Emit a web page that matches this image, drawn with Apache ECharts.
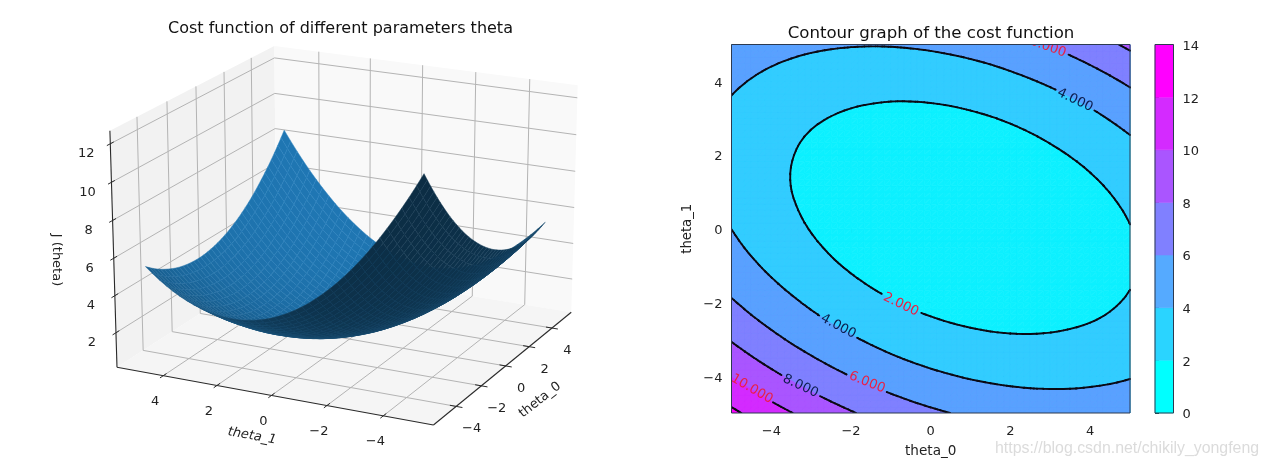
<!DOCTYPE html>
<html><head><meta charset="utf-8">
<style>html,body{margin:0;padding:0;background:#fff}#c{width:1267px;height:466px}</style>
<script src="https://cdn.jsdelivr.net/npm/echarts@6/dist/echarts.min.js"></script>
</head><body><div id="c"></div>
<script>
const FONT='"DejaVu Sans"';
const title3d='Cost function of different parameters theta';
const titleContour='Contour graph of the cost function';
const theta0Values=[-5,-4.5,-4,-3.5,-3,-2.5,-2,-1.5,-1,-0.5,0,0.5,1,1.5,2,2.5,3,3.5,4,4.5,5];
const theta1Values=[-5,-4.5,-4,-3.5,-3,-2.5,-2,-1.5,-1,-0.5,0,0.5,1,1.5,2,2.5,3,3.5,4,4.5,5];
// J(theta_0, theta_1), one row per theta_1 value, one column per theta_0 value
const costValues=[
[12.42,11.58,10.79,10.05,9.36,8.73,8.14,7.61,7.13,6.70,6.32,5.99,5.72,5.49,5.32,5.20,5.13,5.11,5.14,5.23,5.36],
[11.13,10.32,9.55,8.84,8.18,7.57,7.01,6.50,6.05,5.64,5.29,4.99,4.74,4.54,4.39,4.29,4.25,4.25,4.31,4.42,4.58],
[9.95,9.16,8.42,7.73,7.09,6.51,5.97,5.49,5.06,4.68,4.35,4.08,3.85,3.68,3.55,3.48,3.46,3.49,3.58,3.71,3.90],
[8.86,8.09,7.38,6.72,6.11,5.55,5.04,4.58,4.17,3.82,3.52,3.27,3.06,2.92,2.82,2.77,2.78,2.83,2.94,3.10,3.31],
[7.87,7.13,6.44,5.80,5.22,4.68,4.20,3.77,3.39,3.06,2.78,2.55,2.38,2.25,2.18,2.16,2.19,2.27,2.40,2.59,2.82],
[6.98,6.26,5.60,4.99,4.42,3.91,3.46,3.05,2.69,2.39,2.14,1.94,1.79,1.69,1.64,1.64,1.70,1.81,1.96,2.17,2.43],
[6.18,5.49,4.85,4.27,3.73,3.25,2.81,2.43,2.10,1.82,1.59,1.42,1.29,1.22,1.20,1.23,1.31,1.44,1.62,1.86,2.14],
[5.49,4.82,4.21,3.65,3.14,2.68,2.27,1.91,1.61,1.35,1.15,1.00,0.90,0.85,0.85,0.91,1.01,1.17,1.38,1.64,1.95],
[4.89,4.25,3.66,3.12,2.64,2.20,1.82,1.49,1.21,0.98,0.80,0.68,0.60,0.58,0.61,0.69,0.82,1.00,1.23,1.52,1.85],
[4.39,3.77,3.21,2.70,2.24,1.83,1.47,1.17,0.91,0.71,0.56,0.46,0.41,0.41,0.46,0.57,0.72,0.93,1.19,1.50,1.86],
[3.99,3.40,2.86,2.37,1.94,1.55,1.22,0.94,0.71,0.53,0.41,0.33,0.31,0.33,0.41,0.54,0.72,0.95,1.24,1.57,1.96],
[3.68,3.12,2.61,2.15,1.74,1.38,1.07,0.81,0.61,0.46,0.35,0.30,0.30,0.36,0.46,0.61,0.82,1.08,1.39,1.75,2.16],
[3.48,2.94,2.45,2.01,1.63,1.30,1.01,0.78,0.60,0.48,0.40,0.37,0.40,0.48,0.61,0.79,1.02,1.30,1.63,2.02,2.46],
[3.37,2.86,2.39,1.98,1.62,1.32,1.06,0.85,0.70,0.60,0.54,0.54,0.59,0.70,0.85,1.06,1.31,1.62,1.98,2.39,2.85],
[3.36,2.87,2.44,2.05,1.71,1.43,1.20,1.02,0.89,0.81,0.79,0.81,0.89,1.02,1.19,1.42,1.71,2.04,2.42,2.86,3.35],
[3.45,2.99,2.57,2.21,1.90,1.65,1.44,1.28,1.18,1.13,1.13,1.18,1.28,1.43,1.63,1.89,2.20,2.56,2.97,3.43,3.94],
[3.64,3.20,2.81,2.48,2.19,1.96,1.78,1.65,1.57,1.54,1.56,1.64,1.77,1.94,2.17,2.45,2.79,3.17,3.60,4.09,4.63],
[3.92,3.51,3.15,2.84,2.58,2.37,2.21,2.11,2.05,2.05,2.10,2.20,2.35,2.56,2.81,3.12,3.47,3.88,4.34,4.85,5.42],
[4.30,3.92,3.58,3.30,3.06,2.88,2.75,2.67,2.64,2.66,2.74,2.86,3.04,3.27,3.55,3.88,4.26,4.69,5.18,5.71,6.30],
[4.79,4.42,4.11,3.85,3.64,3.49,3.38,3.32,3.32,3.37,3.47,3.62,3.82,4.07,4.38,4.74,5.14,5.60,6.11,6.67,7.29],
[5.37,5.03,4.74,4.51,4.32,4.19,4.11,4.08,4.10,4.18,4.30,4.48,4.70,4.98,5.31,5.69,6.13,6.61,7.14,7.73,8.37]
];
const thetaTicks=[-4,-2,0,2,4];
const zTicks=[2,4,6,8,10,12];
const fillLevels=[0,2,4,6,8,10,12];
const lineLevels=[2,4,6,8,10,12];
const bandColors=['#0df0ff','#33ccff','#5aa0ff','#8080ff','#aa55ff','#d42aff','#ff00ff'];
const barLevels=[0,2,4,6,8,10,12];
const barColors=['#00ffff','#2ad4ff','#55aaff','#8080ff','#aa55ff','#d42aff','#ff00ff'];
const contourLabels=[
 {text:'2.000',t0:-0.75,t1:-2.06,deg:-26,red:true},
 {text:'4.000',t0:-2.32,t1:-2.65,deg:-28,red:false},
 {text:'6.000',t0:-1.60,t1:-4.17,deg:-22,red:true},
 {text:'8.000',t0:-3.27,t1:-4.27,deg:-25,red:false},
 {text:'10.000',t0:-4.49,t1:-4.35,deg:-30,red:true},
 {text:'4.000',t0:3.62,t1:3.49,deg:-26,red:false},
 {text:'6.000',t0:2.94,t1:4.93,deg:-20,red:true}
];
const fmt=v=>String(v).replace('-','\u2212');
const richFmt=v=>'{a|'+fmt(v)+'}';
const richLabel=top=>({a:{fontFamily:FONT,fontSize:13,color:'#222',padding:[top,0,0,0]}});

// smooth drawing mesh: the table above is resampled between its own nodes so curved edges are not faceted
function spline1d(a,u){
  const n=a.length,i=Math.min(Math.floor(u),n-2),t=u-i;
  const at=k=>k<0?3*a[0]-3*a[1]+a[2]:(k>=n?3*a[n-1]-3*a[n-2]+a[n-3]:a[k]);
  const p0=at(i-1),p1=at(i),p2=at(i+1),p3=at(i+2);
  return 0.5*(2*p1+(p2-p0)*t+(2*p0-5*p1+4*p2-p3)*t*t+(3*p1-p0-3*p2+p3)*t*t*t);
}
function mesh(factor){
  const nx=theta0Values.length,ny=theta1Values.length,X=[],Y=[];
  for(let j=0;j<=(nx-1)*factor;j++)X.push(spline1d(theta0Values,j/factor));
  for(let i=0;i<=(ny-1)*factor;i++)Y.push(spline1d(theta1Values,i/factor));
  const rows=costValues.map(r=>X.map((_,j)=>spline1d(r,j/factor)));
  const Z=Y.map((_,i)=>X.map((_,j)=>spline1d(rows.map(r=>r[j]),i/factor)));
  return {X:X,Y:Y,Z:Z};
}

// ---- 3D view ----
const cam={phi:26,elev:20,dist:9,halfZ:0.385,range:5.75,zMin:0.12,zMax:12.67,sx:344.5,sy:320,cx:349.5,cy:225};
const rad=d=>d*Math.PI/180;
const cp=Math.cos(rad(cam.phi)),sp=Math.sin(rad(cam.phi)),ce=Math.cos(rad(cam.elev)),se=Math.sin(rad(cam.elev));
function box(t0,t1,z){return [t0/(2*cam.range),t1/(2*cam.range),((z-cam.zMin)/(cam.zMax-cam.zMin)-0.5)*2*cam.halfZ];}
function depth(b){return -cp*ce*b[0]-sp*ce*b[1]+se*b[2];}
function project(t0,t1,z){
  const b=box(t0,t1,z),k=cam.dist/(cam.dist-depth(b));
  const xv=sp*b[0]-cp*b[1], yv=se*cp*b[0]+se*sp*b[1]+ce*b[2];
  return [cam.cx+cam.sx*xv*k, cam.cy-cam.sy*yv*k];
}
const R=cam.range,ZL=cam.zMin,ZH=cam.zMax;
function polyEl(pts,fill,stroke,lw){return {type:'polygon',silent:true,shape:{points:pts},style:{fill:fill,stroke:stroke||null,lineWidth:lw||0}};}
function lineEl(a,b,col,w){return {type:'line',silent:true,shape:{x1:a[0],y1:a[1],x2:b[0],y2:b[1]},style:{stroke:col,lineWidth:w,fill:null}};}
function textEl(t,p,size,deg,col,style){return {type:'text',silent:true,x:p[0],y:p[1],rotation:rad(deg||0),style:{text:t,x:0,y:0,align:'center',verticalAlign:'middle',textAlign:'center',textVerticalAlign:'middle',fontSize:size,fontFamily:FONT,fontStyle:style||'normal',fill:col||'#222'}};}

function renderPanes(){
  const c=[];
  c.push(polyEl([project(-R,R,ZL),project(R,R,ZL),project(R,R,ZH),project(-R,R,ZH)],'#f2f2f2'));
  c.push(polyEl([project(R,-R,ZL),project(R,R,ZL),project(R,R,ZH),project(R,-R,ZH)],'#f9f9f9'));
  c.push(polyEl([project(-R,-R,ZL),project(R,-R,ZL),project(R,R,ZL),project(-R,R,ZL)],'#f5f5f5'));
  const g='#b4b4b4';
  thetaTicks.forEach(t=>{
    c.push(lineEl(project(t,-R,ZL),project(t,R,ZL),g,1));
    c.push(lineEl(project(t,R,ZL),project(t,R,ZH),g,1));
    c.push(lineEl(project(-R,t,ZL),project(R,t,ZL),g,1));
    c.push(lineEl(project(R,t,ZL),project(R,t,ZH),g,1));
  });
  zTicks.forEach(z=>{
    c.push(lineEl(project(-R,R,z),project(R,R,z),g,1));
    c.push(lineEl(project(R,R,z),project(R,-R,z),g,1));
  });
  return {type:'group',children:c};
}
function renderAxes(){
  const c=[],k='#2a2a2a',T=0.22;
  c.push(lineEl(project(-R,R,ZL),project(-R,-R,ZL),k,1.1));
  c.push(lineEl(project(-R,-R,ZL),project(R,-R,ZL),k,1.1));
  c.push(lineEl(project(-R,R,ZL),project(-R,R,ZH),k,1.1));
  thetaTicks.forEach(t=>{
    c.push(lineEl(project(-R-T,t,ZL),project(-R+T,t,ZL),k,1));
    let p=project(-R,t,ZL);
    c.push(textEl(fmt(t),[p[0]-8,p[1]+26],13));
    c.push(lineEl(project(t,-R-T,ZL),project(t,-R+T,ZL),k,1));
    p=project(t,-R,ZL);
    c.push(textEl(fmt(t),[p[0]+15.5,p[1]+22.5],13));
  });
  zTicks.forEach(z=>{
    c.push(lineEl(project(-R-T,R,z),project(-R+T,R,z),k,1));
    const p=project(-R,R,z);
    c.push(textEl(fmt(z),[p[0]-24,p[1]+10],13));
  });
  c.push(textEl('theta_1',[252,436],13,-10,'#222','italic'));
  c.push(textEl('theta_0',[540,400],13,38));
  c.push(textEl('J (theta)',[56,260],13,-90));
  return {type:'group',children:c};
}
function renderSurface(){
  const m=mesh(2),qs=[];
  for(let i=0;i<m.Y.length-1;i++)for(let j=0;j<m.X.length-1;j++){
    const x0=m.X[j],x1=m.X[j+1],y0=m.Y[i],y1=m.Y[i+1];
    const a=m.Z[i][j],b=m.Z[i][j+1],d=m.Z[i+1][j],e=m.Z[i+1][j+1];
    const jx=((b-a)+(e-d))/(2*(x1-x0)),jy=((d-a)+(e-b))/(2*(y1-y0));
    const len=Math.hypot(jx,jy,1);
    const shade=(jx*0.6667+jy*0.6667+0.3333)/len;
    const f=0.3+0.7*(shade+1)/2;
    const rgb=[31*f,119*f,180*f].map(Math.round);
    const st=[rgb[0]+9,rgb[1]+11,rgb[2]+13];
    const avg=(a+b+d+e)/4;
    qs.push({dp:depth(box((x0+x1)/2,(y0+y1)/2,avg)),
      pts:[project(x0,y0,a),project(x1,y0,b),project(x1,y1,e),project(x0,y1,d)],
      fill:'rgb('+rgb+')',stroke:'rgb('+st+')'});
  }
  qs.sort((p,q)=>p.dp-q.dp);
  return {type:'group',children:qs.map(q=>polyEl(q.pts,q.fill,q.stroke,0.5))};
}

// ---- contour helpers ----
function triangles(){
  const m=mesh(3),out=[];
  for(let i=0;i<m.Y.length-1;i++)for(let j=0;j<m.X.length-1;j++){
    const P=(a,b)=>[m.X[b],m.Y[a],m.Z[a][b]];
    out.push([P(i,j),P(i,j+1),P(i+1,j+1)]);
    out.push([P(i,j),P(i+1,j+1),P(i+1,j)]);
  }
  return out;
}
const tris=triangles();
function cross(a,b,L){const t=(L-a[2])/(b[2]-a[2]);return [a[0]+t*(b[0]-a[0]),a[1]+t*(b[1]-a[1])];}
function renderBand(params,api){
  const L=fillLevels[params.dataIndex],col=bandColors[params.dataIndex],c=[];
  tris.forEach(t=>{
    const poly=[];
    for(let i=0;i<3;i++){
      const a=t[i],b=t[(i+1)%3];
      if(a[2]>=L)poly.push([a[0],a[1]]);
      if((a[2]>=L)!==(b[2]>=L))poly.push(cross(a,b,L));
    }
    if(poly.length>=3)c.push(polyEl(poly.map(p=>api.coord(p)),col,col,0.7));
  });
  return {type:'group',children:c};
}
const GAP=22;
function renderLine(params,api){
  const L=lineLevels[params.dataIndex],c=[];
  const holes=contourLabels.map(l=>({p:api.coord([l.t0,l.t1]),r:l.text.length>5?25:GAP}));
  tris.forEach(t=>{
    const pts=[];
    for(let i=0;i<3;i++){
      const a=t[i],b=t[(i+1)%3];
      if((a[2]>=L)!==(b[2]>=L))pts.push(cross(a,b,L));
    }
    if(pts.length!==2)return;
    const A=api.coord(pts[0]),B=api.coord(pts[1]);
    let parts=[[0,1]];
    holes.forEach(h=>{
      const dx=B[0]-A[0],dy=B[1]-A[1],fx=A[0]-h.p[0],fy=A[1]-h.p[1];
      const qa=dx*dx+dy*dy,qb=2*(fx*dx+fy*dy),qc=fx*fx+fy*fy-h.r*h.r,D=qb*qb-4*qa*qc;
      if(qa===0||D<=0)return;
      const t1=(-qb-Math.sqrt(D))/(2*qa),t2=(-qb+Math.sqrt(D))/(2*qa),np=[];
      parts.forEach(s=>{
        if(t1>s[0])np.push([s[0],Math.min(s[1],t1)]);
        if(t2<s[1])np.push([Math.max(s[0],t2),s[1]]);
      });
      parts=np;
    });
    parts.forEach(s=>{
      if(s[1]<=s[0])return;
      const a=[A[0]+s[0]*(B[0]-A[0]),A[1]+s[0]*(B[1]-A[1])],b=[A[0]+s[1]*(B[0]-A[0]),A[1]+s[1]*(B[1]-A[1])];
      const el=lineEl(a,b,'#0a0a14',1.9);el.style.lineCap='round';c.push(el);
    });
  });
  return {type:'group',children:c};
}
function renderLabel(params,api){
  const l=contourLabels[params.dataIndex];
  return textEl(l.text,api.coord([l.t0,l.t1]),13.2,l.deg,l.red?'#ea1f44':'#0c1c4c');
}
function renderFrame(params,api){
  const a=api.coord([-5,5]),b=api.coord([5,-5]);
  return {type:'rect',silent:true,shape:{x:a[0],y:a[1],width:b[0]-a[0],height:b[1]-a[1]},style:{fill:null,stroke:'#2c3a50',lineWidth:1}};
}
function renderBar(params,api){
  const L=barLevels[params.dataIndex];
  const a=api.coord([0,L+2]),b=api.coord([1,L]);
  return {type:'rect',silent:true,shape:{x:a[0],y:a[1],width:b[0]-a[0],height:b[1]-a[1]},style:{fill:barColors[params.dataIndex],stroke:barColors[params.dataIndex],lineWidth:0.5}};
}
function renderBarFrame(params,api){
  const a=api.coord([0,14]),b=api.coord([1,0]);
  return {type:'rect',silent:true,shape:{x:a[0],y:a[1],width:b[0]-a[0],height:b[1]-a[1]},style:{fill:null,stroke:'#2c3a50',lineWidth:1}};
}
const single=[[0,0]];
const none3d=(fn,z)=>({type:'custom',coordinateSystem:'none',data:single,renderItem:fn,z:z,silent:true,animation:false});
const chart=echarts.init(document.getElementById('c'),null,{renderer:'canvas'});
chart.setOption({
  animation:false,backgroundColor:'#fff',
  title:[
   {text:title3d,left:335.5,top:16,textAlign:'center',textStyle:{fontFamily:FONT,fontWeight:'normal',fontSize:16,color:'#111'}},
   {text:titleContour,left:926,top:20,textAlign:'center',textStyle:{fontFamily:FONT,fontWeight:'normal',fontSize:16.6,color:'#111'}}
  ],
  grid:[
   {left:731.5,top:44.5,width:398.5,height:368.5},
   {left:1155,top:44.5,width:18.5,height:368.5}
  ],
  xAxis:[
   {gridIndex:0,type:'value',min:-5,max:5,name:'theta_0',nameLocation:'middle',nameGap:31,nameTextStyle:{fontFamily:FONT,fontSize:13.6,color:'#222'},
    axisLine:{show:false},splitLine:{show:false},axisTick:{show:true,customValues:thetaTicks,length:4,lineStyle:{color:'#222'}},
    axisLabel:{customValues:thetaTicks,formatter:richFmt,rich:richLabel(3),margin:9}},
   {gridIndex:1,type:'value',min:0,max:1,show:false}
  ],
  yAxis:[
   {gridIndex:0,type:'value',min:-5,max:5,name:'theta_1',nameLocation:'middle',nameGap:37,nameTextStyle:{fontFamily:FONT,fontSize:13.2,color:'#222'},
    axisLine:{show:false},splitLine:{show:false},axisTick:{show:true,customValues:thetaTicks,length:4,lineStyle:{color:'#222'}},
    axisLabel:{customValues:thetaTicks,formatter:richFmt,rich:richLabel(4),margin:9}},
   {gridIndex:1,type:'value',position:'right',min:0,max:14,interval:2,axisLine:{show:false},splitLine:{show:false},
    axisTick:{show:true,length:4,lineStyle:{color:'#222'}},axisLabel:{formatter:richFmt,rich:richLabel(4),margin:9}}
  ],
  series:[
   none3d(renderPanes,1),none3d(renderAxes,2),none3d(renderSurface,3),
   {type:'custom',xAxisIndex:0,yAxisIndex:0,clip:true,data:fillLevels.map(l=>[0,0]),renderItem:renderBand,z:2,silent:true},
   {type:'custom',xAxisIndex:0,yAxisIndex:0,clip:true,data:lineLevels.map(l=>[0,0]),renderItem:renderLine,z:3,silent:true},
   {type:'custom',xAxisIndex:0,yAxisIndex:0,clip:true,data:contourLabels.map(l=>[l.t0,l.t1]),renderItem:renderLabel,z:4,silent:true},
   {type:'custom',xAxisIndex:0,yAxisIndex:0,data:single,renderItem:renderFrame,z:5,silent:true},
   {type:'custom',xAxisIndex:1,yAxisIndex:1,data:barLevels.map(l=>[0,l]),renderItem:renderBar,z:2,silent:true},
   {type:'custom',xAxisIndex:1,yAxisIndex:1,data:single,renderItem:renderBarFrame,z:3,silent:true}
  ],
  graphic:[{type:'text',left:995,top:441,z:20,silent:true,style:{text:'https://blog.csdn.net/chikily_yongfeng',font:'15.9px "Liberation Sans"',fill:'rgba(190,190,190,0.55)'}}]
});
</script></body></html>
